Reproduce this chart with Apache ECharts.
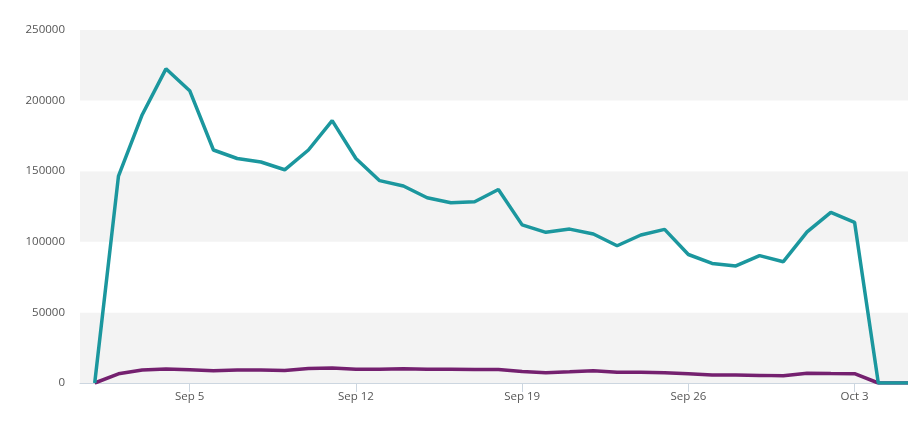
<!DOCTYPE html>
<html>
<head>
<meta charset="utf-8">
<script src="https://cdn.jsdelivr.net/npm/echarts@6/dist/echarts.min.js"></script>
<style>
html, body {margin: 0; padding: 0; background: #fff;}
#chart_1 {width: 908px; height: 429px;}
</style>
</head>
<body>
<div id="chart_1"></div>
<script>
// one entry per day, Sep 1 .. Oct 6
var days = ['Sep 1', 'Sep 2', 'Sep 3', 'Sep 4', 'Sep 5', 'Sep 6', 'Sep 7', 'Sep 8', 'Sep 9', 'Sep 10',
    'Sep 11', 'Sep 12', 'Sep 13', 'Sep 14', 'Sep 15', 'Sep 16', 'Sep 17', 'Sep 18', 'Sep 19', 'Sep 20',
    'Sep 21', 'Sep 22', 'Sep 23', 'Sep 24', 'Sep 25', 'Sep 26', 'Sep 27', 'Sep 28', 'Sep 29', 'Sep 30',
    'Oct 1', 'Oct 2', 'Oct 3', 'Oct 4', 'Oct 5', 'Oct 6'];
var tealValues = [0, 146500, 190000, 222500, 207000, 165000, 159000, 156500, 151000, 165000,
    185800, 159000, 143300, 139500, 131200, 127700, 128400, 137000, 112000, 106700,
    109000, 105500, 97200, 104800, 108800, 91000, 84700, 82900, 90200, 85900,
    107000, 120900, 113800, 0, 0, 0];
var purpleValues = [0, 6500, 9200, 9900, 9300, 8600, 9200, 9200, 8800, 10300,
    10700, 9700, 9800, 10100, 9800, 9800, 9500, 9500, 8200, 7300,
    7900, 8600, 7600, 7700, 7300, 6600, 5700, 5600, 5400, 5100,
    6900, 6700, 6600, 0, 0, 0];
var tickDays = ['Sep 5', 'Sep 12', 'Sep 19', 'Sep 26', 'Oct 3'];
var yTicks = [0, 50000, 100000, 150000, 200000, 250000];

var chart_view = {
    chart_index: function () {
        var chart1 = echarts.init(document.getElementById('chart_1'));
        var Data1 = [], Data2 = [], tickPos = [];
        for (var i = 0; i < days.length; i++) {
            Data1[i] = [i, tealValues[i]];
            Data2[i] = [i, purpleValues[i]];
        }
        for (var j = 0; j < tickDays.length; j++) {
            tickPos[j] = days.indexOf(tickDays[j]);
        }
        var labelStyle = {color: '#555', fontSize: 11.5, fontFamily: 'Open Sans'};
        var option = {
            animation: false,
            grid: {left: 80, right: 0, top: 30, bottom: 46},
            xAxis: {
                type: 'value',
                min: -0.62,
                max: 34.25,
                splitLine: {show: false},
                axisLine: {show: true, lineStyle: {color: '#ccd6e0', width: 1}},
                axisTick: {show: true, length: 9, customValues: tickPos, lineStyle: {color: '#ccd6e0'}},
                axisLabel: Object.assign({
                    customValues: tickPos,
                    margin: 8,
                    formatter: function (v) { return days[Math.round(v)]; }
                }, labelStyle)
            },
            yAxis: {
                type: 'value',
                min: yTicks[0],
                max: yTicks[yTicks.length - 1],
                interval: 50000,
                axisLine: {show: false},
                axisTick: {show: false},
                splitLine: {show: false},
                splitArea: {show: true, areaStyle: {color: ['#f3f3f3', '#ffffff']}},
                axisLabel: Object.assign({
                    margin: 15,
                    formatter: function (v) { return String(v); }
                }, labelStyle)
            },
            series: [
                {
                    name: 'Purple', type: 'line', data: Data2, showSymbol: false,
                    lineStyle: {color: '#74206f', width: 3.5}, itemStyle: {color: '#74206f'}
                },
                {
                    name: 'Teal', type: 'line', data: Data1, showSymbol: false,
                    lineStyle: {color: '#1b979e', width: 3.5}, itemStyle: {color: '#1b979e'}
                }
            ]
        };
        chart1.setOption(option);
    }
};
chart_view.chart_index();
</script>
</body>
</html>
